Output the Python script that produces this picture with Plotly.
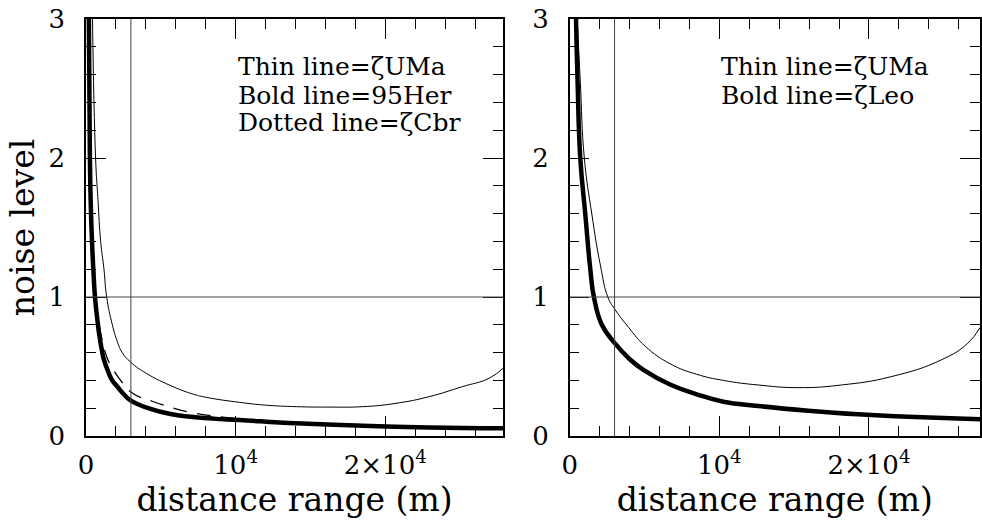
import plotly.graph_objects as go
from plotly.subplots import make_subplots

# ---------------- data ----------------
# Left panel
L_thin_x = [430, 640, 800, 980, 1200, 1380, 1760, 2090, 2420, 3000, 4040, 5820, 7200, 8040, 10270, 12000, 14050, 16300, 18490, 20710, 22930, 25150, 26930, 27870]
L_thin_y = [3.03, 2.00, 1.70, 1.40, 1.20, 1.00, 0.80, 0.68, 0.60, 0.53, 0.45, 0.355, 0.30, 0.278, 0.242, 0.222, 0.211, 0.208, 0.211, 0.235, 0.283, 0.355, 0.415, 0.487]

L_bold_x = [190, 260, 310, 400, 490, 600, 800, 870, 1090, 1200, 1530, 1750, 2090, 2530, 3000, 4310, 5650, 6980, 8490, 10270, 14050, 18490, 22930, 27870]
L_bold_y = [3.03, 2.00, 1.70, 1.40, 1.20, 1.00, 0.80, 0.74, 0.60, 0.547, 0.45, 0.40, 0.356, 0.30, 0.255, 0.195, 0.158, 0.139, 0.125, 0.115, 0.091, 0.074, 0.062, 0.055]

L_dot_x = [230, 300, 480, 640, 880, 1100, 1420, 1750, 2200, 3090, 4420, 5420, 6980, 8930, 12000, 16000, 20000, 27870]
L_dot_y = [3.03, 2.00, 1.40, 1.00, 0.80, 0.68, 0.56, 0.49, 0.417, 0.309, 0.25, 0.215, 0.17, 0.139, 0.105, 0.084, 0.071, 0.056]

# Right panel
R_thin_x = [490, 710, 980, 1490, 2050, 2550, 3000, 3950, 5060, 6710, 8490, 10270, 12600, 15270, 18160, 21490, 24820, 26600, 27420]
R_thin_y = [3.03, 2.55, 2.00, 1.59, 1.23, 1.00, 0.915, 0.78, 0.645, 0.52, 0.444, 0.40, 0.367, 0.348, 0.367, 0.427, 0.547, 0.667, 0.78]

R_bold_x = [420, 530, 710, 1050, 1380, 1620, 2150, 3000, 4040, 4930, 6710, 8490, 10270, 12600, 15940, 19270, 22600, 27420]
R_bold_y = [3.03, 2.55, 2.00, 1.59, 1.20, 1.00, 0.80, 0.67, 0.55, 0.475, 0.37, 0.30, 0.247, 0.216, 0.182, 0.156, 0.139, 0.12]

# reference lines
X_REF = 3000
Y_REF = 1

# axis ticks
x_tickvals = [0, 10000, 20000]
x_ticktext = ["0", "10<sup>4</sup>", "2×10<sup>4</sup>"]
y_tickvals = [0, 1, 2, 3]
y_ticktext = ["0", "1", "2", "3"]

left_labels = ["Thin line=ζUMa", "Bold line=95Her", "Dotted line=ζCbr"]
right_labels = ["Thin line=ζUMa", "Bold line=ζLeo"]
label_y = [2.655, 2.453, 2.252]
label_x = 10000

FONT = "DejaVu Serif"

fig = make_subplots(rows=1, cols=2, horizontal_spacing=0.0745)
fig.update_layout(
    width=982, height=523,
    margin=dict(l=86, r=0, t=19, b=87),
    paper_bgcolor="white", plot_bgcolor="white",
    showlegend=False,
    font=dict(family=FONT, color="black"),
)
fig.update_xaxes(domain=[0, 0.4665], row=1, col=1)
fig.update_xaxes(domain=[0.541, 1.0], row=1, col=2)

def line(x, y, w, dash=None):
    return go.Scatter(x=x, y=y, mode="lines",
                      line=dict(color="black", width=w, shape="spline", smoothing=1.3, dash=dash),
                      hoverinfo="skip")

fig.add_trace(line(L_dot_x, L_dot_y, 1.3, "14px,10px"), row=1, col=1)
fig.add_trace(line(L_thin_x, L_thin_y, 1.0), row=1, col=1)
fig.add_trace(line(L_bold_x, L_bold_y, 4.5), row=1, col=1)
fig.add_trace(line(R_thin_x, R_thin_y, 1.0), row=1, col=2)
fig.add_trace(line(R_bold_x, R_bold_y, 4.5), row=1, col=2)

for c in (1, 2):
    fig.add_vline(x=X_REF, line=dict(color="#444444", width=1), row=1, col=c)
    fig.add_hline(y=Y_REF, line=dict(color="#444444", width=1), row=1, col=c)

common = dict(showline=True, linecolor="black", linewidth=1.5, mirror="ticks",
              ticks="inside", tickcolor="black", tickwidth=1, ticklen=20,
              showgrid=False, zeroline=False, tickfont=dict(size=26, family=FONT))

fig.update_xaxes(**common, tickmode="array", tickvals=x_tickvals, ticktext=x_ticktext,
                 ticklabelstandoff=5,
                 minor=dict(tickmode="linear", tick0=0, dtick=2000, ticks="inside",
                            ticklen=10, tickcolor="black", tickwidth=1),
                 title=dict(text="distance range (m)", font=dict(size=33, family=FONT), standoff=4))
fig.update_xaxes(range=[0, 27870], row=1, col=1)
fig.update_xaxes(range=[0, 27420], row=1, col=2)

fig.update_yaxes(**common, range=[0, 3], tickmode="array", tickvals=y_tickvals, ticktext=y_ticktext,
                 ticklabelstandoff=14,
                 minor=dict(tickmode="linear", tick0=0, dtick=0.2, ticks="inside",
                            ticklen=10, tickcolor="black", tickwidth=1))
fig.update_yaxes(title=dict(text="noise level", font=dict(size=33, family=FONT), standoff=4), row=1, col=1)

for t, yy in zip(left_labels, label_y):
    fig.add_annotation(x=label_x, y=yy, xref="x", yref="y", text=t, showarrow=False,
                       xanchor="left", yanchor="middle", font=dict(size=25, family=FONT))
for t, yy in zip(right_labels, label_y):
    fig.add_annotation(x=label_x, y=yy, xref="x2", yref="y2", text=t, showarrow=False,
                       xanchor="left", yanchor="middle", font=dict(size=25, family=FONT))

fig.write_html("out.html")
